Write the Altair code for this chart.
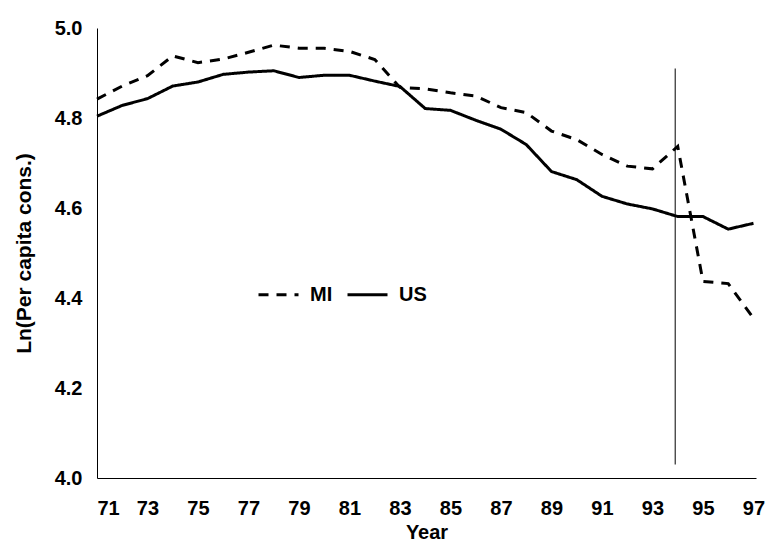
import altair as alt
import pandas as pd

years = list(range(71, 98))
mi = [4.842, 4.871, 4.894, 4.938, 4.923, 4.931, 4.946, 4.962, 4.955, 4.955,
      4.948, 4.930, 4.868, 4.865, 4.856, 4.849, 4.823, 4.812, 4.771, 4.752,
      4.719, 4.693, 4.687, 4.737, 4.437, 4.432, 4.355]
us = [4.804, 4.828, 4.843, 4.871, 4.880, 4.897, 4.902, 4.905, 4.890, 4.895,
      4.895, 4.882, 4.870, 4.821, 4.817, 4.795, 4.775, 4.741, 4.681, 4.663,
      4.626, 4.609, 4.598, 4.581, 4.581, 4.553, 4.566]
series_names = ["MI", "US"]
x_ticks = list(range(71, 98, 2))
y_ticks = [4.0, 4.2, 4.4, 4.6, 4.8, 5.0]
vline_year = [93.9]
vline_lo = [4.03]
vline_hi = [4.91]

FONT = "Liberation Sans"

df = pd.DataFrame({
    "Year": years * 2,
    "Value": mi + us,
    "Series": ["MI"] * len(mi) + ["US"] * len(us),
})
vdf = pd.DataFrame({"Year": vline_year, "Value": vline_lo, "Value2": vline_hi})

x_enc = alt.X(
    "Year:Q",
    scale=alt.Scale(domain=[71, 97.1], nice=False, zero=False),
    axis=alt.Axis(values=x_ticks, title="Year", labelPadding=20,
                  titleY=44, titleBaseline="top", titleFontSize=20),
)
y_enc = alt.Y(
    "Value:Q",
    scale=alt.Scale(domain=[4.0, 5.0], nice=False, zero=False),
    axis=alt.Axis(values=y_ticks, format=".1f", title="Ln(Per capita cons.)",
                  labelPadding=15, titleX=-63),
)

lines = alt.Chart(df).mark_line(strokeWidth=3, color="black").encode(
    x=x_enc,
    y=y_enc,
    strokeDash=alt.StrokeDash(
        "Series:N",
        scale=alt.Scale(domain=series_names, range=[[10, 8], [1, 0]]),
        legend=alt.Legend(
            title=None, orient="none", legendX=160, legendY=245,
            direction="horizontal", symbolType="stroke", symbolSize=1600,
            symbolStrokeWidth=3, symbolStrokeColor="black",
            labelFontSize=20, labelFont=FONT, labelFontWeight="bold",
            labelColor="black", columnPadding=8, labelOffset=10,
        ),
    ),
)

vline = alt.Chart(vdf).mark_rule(color="black", strokeWidth=1).encode(
    x="Year:Q", y="Value:Q", y2="Value2:Q"
)

chart = alt.layer(lines, vline).properties(
    width=659,
    height=450,
    autosize=alt.AutoSizeParams(type="none"),
    padding={"left": 89, "top": 20, "right": 9, "bottom": 69},
).configure_view(stroke=None).configure_axis(
    grid=False, ticks=False, domainColor="black", domainWidth=1,
    labelFont=FONT, labelFontSize=20, labelFontWeight="bold", labelColor="black",
    titleFont=FONT, titleFontSize=21, titleFontWeight="bold", titleColor="black",
)

chart.save("out.html", embed_options={"renderer": "svg", "actions": False})
